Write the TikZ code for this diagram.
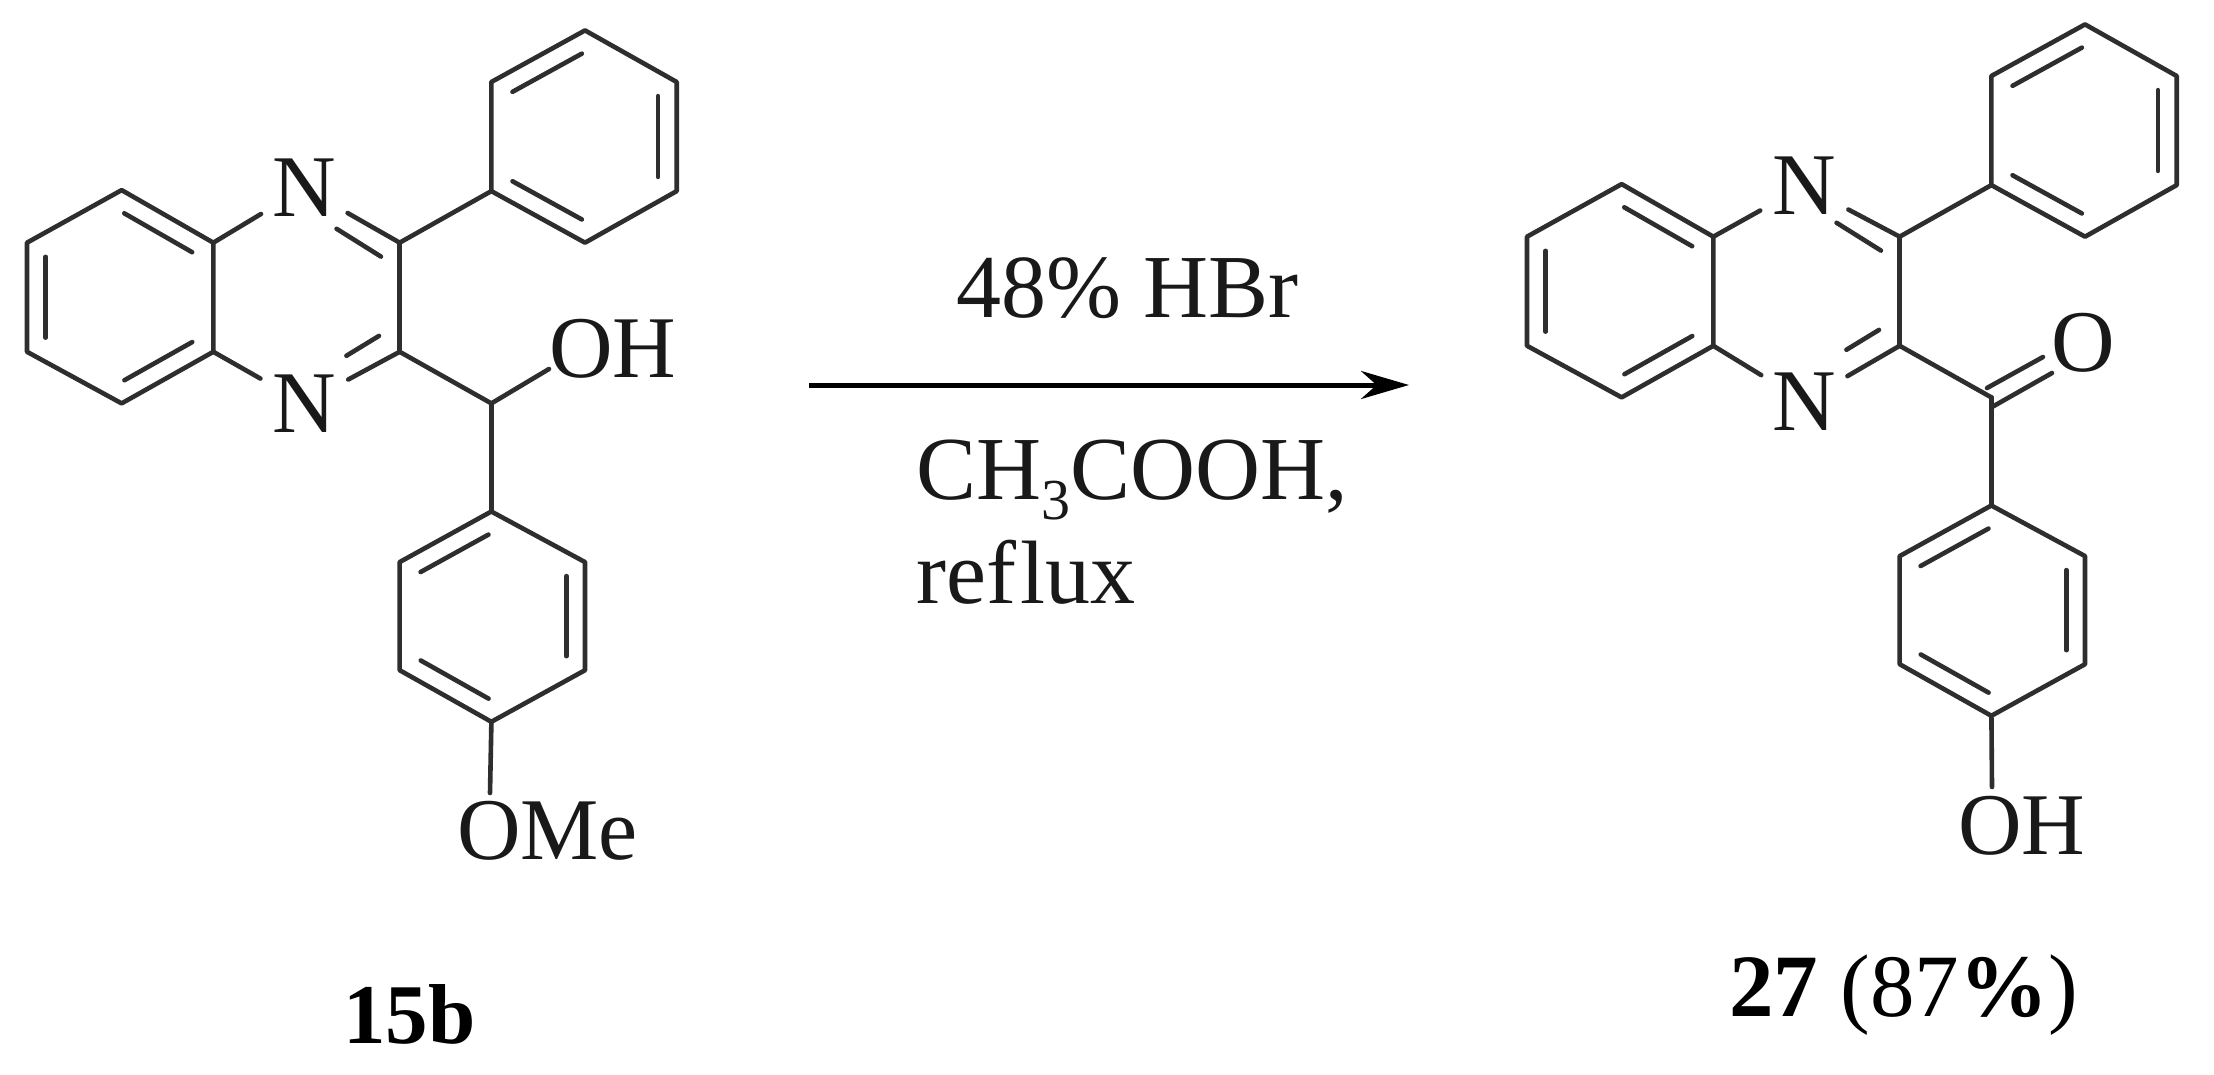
\documentclass[tikz,border=0pt]{standalone}
\usepackage{fontspec}
\setmainfont{Liberation Serif}
\usetikzlibrary{arrows.meta,calc}
\newcommand{\dbl}[2]{\draw[bond] ($(#1)!0.13!(#2)!19pt!90:(#2)$) -- ($(#2)!0.13!(#1)!-19pt!90:(#1)$);}
\newcommand{\core}[2]{%
  \coordinate (#1a1) at (24,245); \coordinate (#1a2) at (24,355);
  \coordinate (#1a3) at (120,407); \coordinate (#1a4) at (213,355);
  \coordinate (#1a5) at (213,245); \coordinate (#1a6) at (120,192);
  \coordinate (#1c1) at (402,245); \coordinate (#1c2) at (402,355);
  \coordinate (#1p1) at (495,193); \coordinate (#1p2) at (495,83);
  \coordinate (#1p3) at (590,31); \coordinate (#1p4) at (683,83);
  \coordinate (#1p5) at (683,193); \coordinate (#1p6) at (590,245);
  \coordinate (#1ch) at (495,407);
  \coordinate (#1q1) at (495,516); \coordinate (#1q2) at (402,567);
  \coordinate (#1q3) at (402,676); \coordinate (#1q4) at (495,728);
  \coordinate (#1q5) at (590,676); \coordinate (#1q6) at (590,567);
  \coordinate (#1i1) at (338,231); \coordinate (#1i2) at (383,259);
  \coordinate (#1i3) at (381,339); \coordinate (#1i4) at (348,359);
  \node[atom] (#1n1) at (305,190+#2) {N};
  \node[atom] (#1n2) at (305,407+#2) {N};
  \draw[bond] (#1a1) -- (#1a2) -- (#1a3) -- (#1a4) -- (#1a5) -- (#1a6) -- cycle;
  \draw[bond] (#1a5) -- (#1n1); \draw[bond] (#1n1) -- (#1c1);
  \draw[bond] (#1c1) -- (#1c2); \draw[bond] (#1c2) -- (#1n2);
  \draw[bond] (#1n2) -- (#1a4);
  \draw[bond] (#1i1) -- (#1i2); \draw[bond] (#1i3) -- (#1i4);
  \draw[bond] (#1c1) -- (#1p1);
  \draw[bond] (#1p1) -- (#1p2) -- (#1p3) -- (#1p4) -- (#1p5) -- (#1p6) -- cycle;
  \draw[bond] (#1c2) -- (#1ch); \draw[bond] (#1ch) -- (#1q1);
  \draw[bond] (#1q1) -- (#1q2) -- (#1q3) -- (#1q4) -- (#1q5) -- (#1q6) -- cycle;
  \dbl{#1a1}{#1a2}\dbl{#1a3}{#1a4}\dbl{#1a5}{#1a6}
  \dbl{#1p3}{#1p2}\dbl{#1p5}{#1p4}\dbl{#1p1}{#1p6}
  \dbl{#1q1}{#1q2}\dbl{#1q3}{#1q4}\dbl{#1q5}{#1q6}
}
\tikzset{
  bond/.style={draw=black!82,line width=4.6pt,line cap=round,line join=round},
  atom/.style={circle,inner sep=0pt,minimum size=100pt,font=\fontsize{88}{88}\selectfont,text=black!90},
  lab/.style={anchor=base west,inner sep=0pt,font=\fontsize{88}{88}\selectfont,text=black!90},
  reag/.style={anchor=base west,inner sep=0pt,font=\fontsize{90}{90}\selectfont,text=black!90},
  cmpd/.style={anchor=base west,inner sep=0pt,font=\fontsize{89}{89}\selectfont,text=black}
}
\begin{document}
\begin{tikzpicture}[x=1pt,y=-1pt]
\useasboundingbox (0,0) rectangle (2214,1075);
\fill[white] (0,0) rectangle (2214,1075);
% left molecule
\begin{scope}[shift={(3.34,-0.34)},xscale=.986,yscale=.992]
\core{L}{0}
\end{scope}
\node[lab] (oh1) at (549,377) {OH};
\coordinate (oh1b) at (549,369);
\draw[bond] (Lch) -- (oh1b);
\node[lab] (ome) at (457,859) {OMe};
\coordinate (omeb) at (490,793);
\draw[bond] (Lq4) -- (omeb);
\node[cmpd,font=\fontsize{85}{85}\selectfont] (c15) at (343,1043) {\bfseries 15b};
% right molecule
\begin{scope}[shift={(1503.34,-6.34)},xscale=.986,yscale=.992]
\core{R}{4}
\end{scope}
\node[atom] (o) at (2083,343) {O};
\coordinate (o1) at (2052,373); \coordinate (o1s) at (1992,407);
\coordinate (o2) at (1987,388); \coordinate (o3) at (2043,357);
\draw[bond] (o1s) -- (o1);
\draw[bond] (o2) -- (o3);
\node[lab] (oh2) at (1958,854) {OH};
\coordinate (oh2b) at (1992,787);
\draw[bond] (Rq4) -- (oh2b);
\node[cmpd] (c27) at (1729,1016) {\textbf{27} (87\textbf{\%})};
% arrow
\coordinate (s) at (809,385); \coordinate (e) at (1409,385);
\draw[line width=5pt,draw=black,-{Stealth[length=48pt,width=28pt]}] (s) -- (e);
\node[reag] (r1) at (956,317) {48\% HBr};
\node[reag] (r2) at (916,499) {CH\raisebox{-20pt}{\fontsize{58}{58}\selectfont 3}COOH,};
\node[reag] (r3) at (916,603) {ref\kern4pt lux};
\end{tikzpicture}
\end{document}
